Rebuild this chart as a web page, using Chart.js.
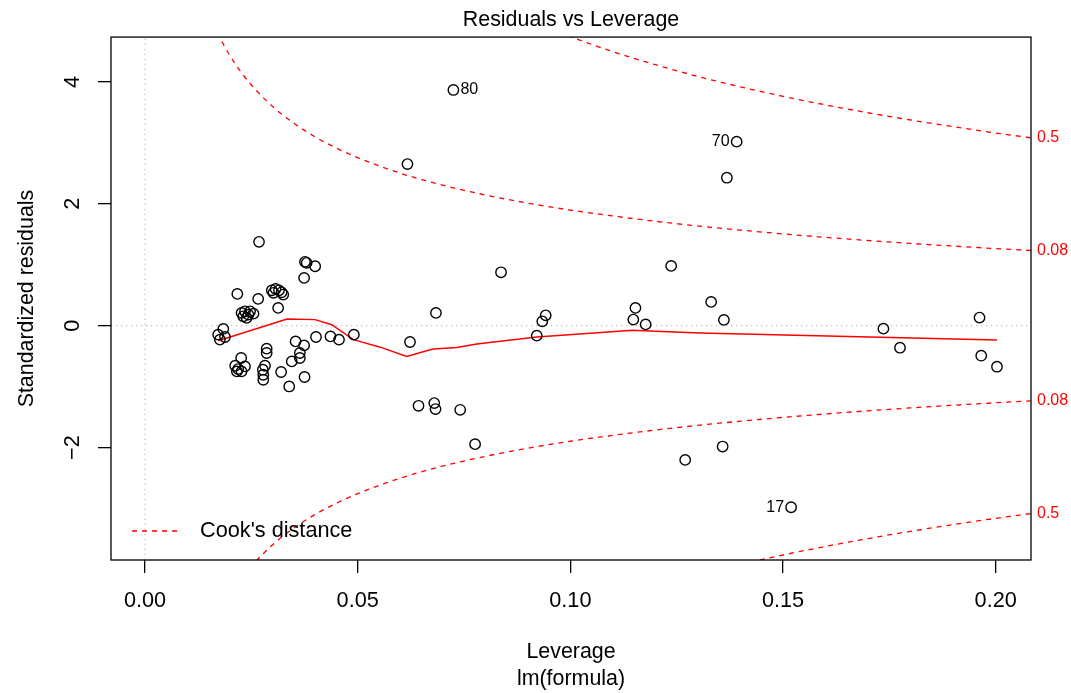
<!DOCTYPE html>
<html>
<head>
<meta charset="utf-8">
<title>Residuals vs Leverage</title>
<script src="https://cdn.jsdelivr.net/npm/chart.js@4.4.1/dist/chart.umd.min.js"></script>
<style>
  html, body { margin: 0; padding: 0; background: #fff; }
  canvas { display: block; }
</style>
</head>
<body>
<canvas id="myChart" width="1071" height="693"></canvas>
<script>
// points: hat values and standardized residuals
const leverage = [
  0.0725, 0.0617, 0.1391, 0.1368, 0.0268, 0.0376, 0.0380, 0.0400, 0.0374, 0.0217,
  0.0266, 0.0298, 0.0307, 0.0315, 0.0321, 0.0325, 0.0302, 0.0313, 0.0227, 0.0235,
  0.0247, 0.0255, 0.0231, 0.0239, 0.0243, 0.0184, 0.0172, 0.0188, 0.0176, 0.0402,
  0.0436, 0.0456, 0.0491, 0.0354, 0.0374, 0.0364, 0.0364, 0.0345, 0.0286, 0.0286,
  0.0226, 0.0212, 0.0219, 0.0227, 0.0235, 0.0216, 0.0282, 0.0277, 0.0278, 0.0278,
  0.0320, 0.0375, 0.0339, 0.0837, 0.0684, 0.0623, 0.0942, 0.0934, 0.0921, 0.1153,
  0.1148, 0.1177, 0.1237, 0.0643, 0.0680, 0.0683, 0.0741, 0.0776, 0.1270, 0.1331,
  0.1361, 0.1736, 0.1775, 0.1962, 0.1966, 0.2003, 0.1358, 0.1519
];
const stdResid = [
  3.868, 2.652, 3.020, 2.428, 1.376, 1.047, 1.031, 0.975, 0.784, 0.521,
  0.439, 0.580, 0.603, 0.580, 0.547, 0.510, 0.538, 0.291, 0.209, 0.235,
  0.235, 0.197, 0.153, 0.127, 0.181, -0.054, -0.148, -0.186, -0.230, -0.186,
  -0.176, -0.230, -0.148, -0.258, -0.324, -0.449, -0.531, -0.587, -0.378, -0.449,
  -0.531, -0.658, -0.712, -0.751, -0.669, -0.751, -0.658, -0.723, -0.806, -0.888,
  -0.761, -0.843, -0.998, 0.876, 0.209, -0.268, 0.169, 0.071, -0.164, 0.291,
  0.099, 0.021, 0.981, -1.315, -1.271, -1.369, -1.381, -1.945, -2.203, 0.390,
  0.094, -0.049, -0.362, 0.132, -0.493, -0.674, -1.984, -2.980
];
const labelIndex = [0, 2, 77];
const labelText = ['80', '70', '17'];

// red smoother
const smoothLev = [0.0172, 0.0334, 0.0400, 0.0439, 0.0490, 0.0553, 0.0615, 0.0677, 0.0733, 0.0780, 0.0921, 0.1147, 0.1171, 0.1305, 0.2003];
const smoothRes = [-0.247, 0.110, 0.099, 0.016, -0.230, -0.353, -0.505, -0.383, -0.357, -0.301, -0.186, -0.077, -0.082, -0.120, -0.235];

// Cook's distance contours
const cook08Lev = [0.016, 0.0175, 0.02, 0.0225, 0.025, 0.03, 0.035, 0.04, 0.045, 0.05, 0.06, 0.07, 0.08, 0.09, 0.10, 0.12, 0.14, 0.16, 0.18, 0.20, 0.2083];
const cook08Up = [4.960, 4.739, 4.427, 4.169, 3.950, 3.596, 3.321, 3.098, 2.914, 2.757, 2.503, 2.305, 2.145, 2.011, 1.897, 1.713, 1.568, 1.449, 1.350, 1.265, 1.233];
const cook08Low = [-4.960, -4.739, -4.427, -4.169, -3.950, -3.596, -3.321, -3.098, -2.914, -2.757, -2.503, -2.305, -2.145, -2.011, -1.897, -1.713, -1.568, -1.449, -1.350, -1.265, -1.233];
const cook5Lev = [0.095, 0.10, 0.11, 0.12, 0.13, 0.14, 0.15, 0.16, 0.17, 0.18, 0.19, 0.20, 0.2083];
const cook5Up = [4.880, 4.743, 4.497, 4.282, 4.090, 3.919, 3.764, 3.623, 3.494, 3.375, 3.265, 3.162, 3.083];
const cook5Low = [-4.880, -4.743, -4.497, -4.282, -4.090, -3.919, -3.764, -3.623, -3.494, -3.375, -3.265, -3.162, -3.083];

// axes
const xTicks = [0, 0.05, 0.10, 0.15, 0.20];
const yTicks = [-2, 0, 2, 4];
const cookTicks = [3.083, 1.233, -1.233, -3.083];
const cookTickLabels = ['0.5', '0.08', '0.08', '0.5'];
const xMin = -0.008, xMax = 0.2083;
const yMin = -3.846, yMax = 4.736;

const pts = (xs, ys) => xs.map((v, i) => ({ x: v, y: ys[i] }));

Chart.defaults.font.family = '"Liberation Sans", Arial, Helvetica, sans-serif';
Chart.defaults.color = '#000';

const cookLine = {
  showLine: true, pointRadius: 0, borderColor: '#ff0000', borderWidth: 1.3,
  borderDash: [5, 5], cubicInterpolationMode: 'monotone', fill: false
};
const dotted = {
  showLine: true, pointRadius: 0, borderColor: '#bebebe', borderWidth: 1.2,
  borderDash: [1.3, 3.7], fill: false
};

const extras = {
  id: 'extras',
  afterDatasetsDraw(chart) {
    const { ctx, chartArea: a, scales: { x, y } } = chart;
    ctx.save();
    ctx.strokeStyle = '#000';
    ctx.lineWidth = 1.3;
    ctx.strokeRect(a.left, a.top, a.right - a.left, a.bottom - a.top);

    // point ids
    ctx.font = '16px "Liberation Sans", Arial, sans-serif';
    ctx.fillStyle = '#000';
    ctx.textBaseline = 'middle';
    const mid = (x.min + x.max) / 2;
    labelIndex.forEach((i, k) => {
      const px = x.getPixelForValue(leverage[i]);
      const py = y.getPixelForValue(stdResid[i]);
      const toLeft = leverage[i] > mid;
      ctx.textAlign = toLeft ? 'right' : 'left';
      ctx.fillText(labelText[k], px + (toLeft ? -7 : 7), py);
    });

    // legend
    const ly = a.bottom - 29;
    ctx.strokeStyle = '#ff0000';
    ctx.lineWidth = 1.3;
    ctx.setLineDash([5, 5]);
    ctx.beginPath();
    ctx.moveTo(a.left + 21, ly);
    ctx.lineTo(a.left + 68, ly);
    ctx.stroke();
    ctx.setLineDash([]);
    ctx.font = '21.7px "Liberation Sans", Arial, sans-serif';
    ctx.textAlign = 'left';
    ctx.fillText("Cook's distance", a.left + 89, ly);
    ctx.restore();
  }
};

const ctx = document.getElementById('myChart').getContext('2d');
const myChart = new Chart(ctx, {
  type: 'scatter',
  data: {
    datasets: [
      {
        data: pts(leverage, stdResid),
        pointRadius: 5.2,
        pointBorderWidth: 1.4,
        pointBorderColor: '#000',
        pointBackgroundColor: 'rgba(0,0,0,0)'
      },
      {
        data: pts(smoothLev, smoothRes),
        showLine: true, pointRadius: 0, borderColor: '#ff0000', borderWidth: 1.5, fill: false
      },
      Object.assign({ data: pts(cook08Lev, cook08Up) }, cookLine),
      Object.assign({ data: pts(cook08Lev, cook08Low) }, cookLine),
      Object.assign({ data: pts(cook5Lev, cook5Up) }, cookLine),
      Object.assign({ data: pts(cook5Lev, cook5Low) }, cookLine),
      Object.assign({ data: [{ x: xMin, y: 0 }, { x: xMax, y: 0 }] }, dotted),
      Object.assign({ data: [{ x: 0, y: yMin }, { x: 0, y: yMax }] }, dotted)
    ]
  },
  options: {
    responsive: false,
    animation: false,
    events: [],
    layout: { padding: 0 },
    plugins: {
      legend: { display: false },
      tooltip: { enabled: false },
      title: {
        display: true,
        text: 'Residuals vs Leverage',
        fullSize: false,
        color: '#000',
        font: { size: 21.4, weight: 'normal', lineHeight: 1.2 },
        padding: { top: 6.8, bottom: 4.6 }
      }
    },
    scales: {
      x: {
        type: 'linear',
        min: xMin,
        max: xMax,
        afterBuildTicks: s => { s.ticks = xTicks.map(v => ({ value: v })); },
        afterFit: s => { s.height = 133; },
        ticks: {
          callback: v => v.toFixed(2),
          font: { size: 21.7 },
          color: '#000',
          padding: 15.5,
          maxRotation: 0,
          autoSkip: false
        },
        grid: { drawOnChartArea: false, drawTicks: true, tickLength: 13, color: '#000', lineWidth: 1.3 },
        border: { display: false },
        title: {
          display: true,
          text: ['Leverage', 'lm(formula)'],
          color: '#000',
          font: { size: 21.4, lineHeight: 1.27 },
          padding: { top: 0, bottom: 0 }
        }
      },
      y: {
        type: 'linear',
        position: 'left',
        min: yMin,
        max: yMax,
        afterBuildTicks: s => { s.ticks = yTicks.map(v => ({ value: v })); },
        afterFit: s => { s.width = 111; },
        ticks: {
          callback: v => String(v).replace('-', '\u2212'),
          font: { size: 21.7 },
          color: '#000',
          minRotation: 90,
          maxRotation: 90,
          crossAlign: 'center',
          padding: 13,
          autoSkip: false
        },
        grid: { drawOnChartArea: false, drawTicks: true, tickLength: 13, color: '#000', lineWidth: 1.3 },
        border: { display: false },
        title: {
          display: true,
          text: 'Standardized residuals',
          color: '#000',
          font: { size: 21.4, lineHeight: 1.2 },
          padding: { top: 14, bottom: 0 }
        }
      },
      y2: {
        type: 'linear',
        position: 'right',
        min: yMin,
        max: yMax,
        afterBuildTicks: s => { s.ticks = cookTicks.map(v => ({ value: v })); },
        afterFit: s => { s.width = 40; },
        ticks: {
          callback: (v, i) => cookTickLabels[i],
          font: { size: 16 },
          color: '#ff0000',
          padding: 6,
          autoSkip: false
        },
        grid: { display: false, drawTicks: false },
        border: { display: false }
      }
    }
  },
  plugins: [extras]
});
</script>
</body>
</html>
